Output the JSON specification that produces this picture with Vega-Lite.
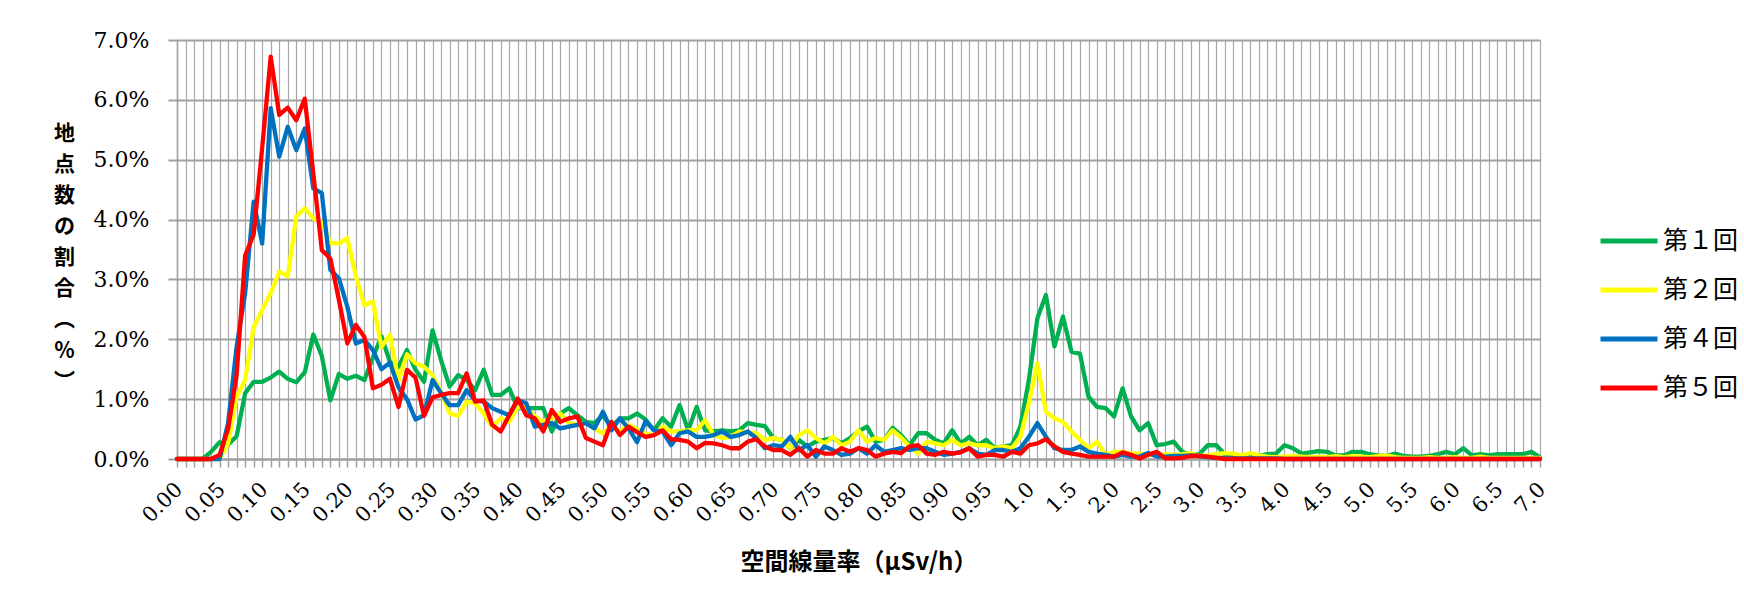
{
"$schema": "https://vega.github.io/schema/vega-lite/v6.json",
"width": 1363,
"height": 419,
"autosize": {"type": "none"},
"padding": {"left": 177, "top": 40, "right": 204, "bottom": 146},
"background": "white",
"data": {"values": [
{"x":"0.00","第１回":0,"第２回":0,"第４回":0,"第５回":0},
{"x":"0.01","第１回":0,"第２回":0,"第４回":0,"第５回":0},
{"x":"0.02","第１回":0,"第２回":0,"第４回":0,"第５回":0},
{"x":"0.03","第１回":0,"第２回":0,"第４回":0,"第５回":0},
{"x":"0.04","第１回":0.12,"第２回":0,"第４回":0,"第５回":0},
{"x":"0.05","第１回":0.28,"第２回":0,"第４回":0,"第５回":0.07},
{"x":"0.06","第１回":0.24,"第２回":0.26,"第４回":0.6,"第５回":0.5},
{"x":"0.07","第１回":0.38,"第２回":1.04,"第４回":1.88,"第５回":1.4},
{"x":"0.08","第１回":1.1,"第２回":1.32,"第４回":2.77,"第５回":3.4},
{"x":"0.09","第１回":1.29,"第２回":2.2,"第４回":4.3,"第５回":3.75},
{"x":"0.10","第１回":1.29,"第２回":2.49,"第４回":3.6,"第５回":5.2},
{"x":"0.11","第１回":1.36,"第２回":2.77,"第４回":5.86,"第５回":6.72},
{"x":"0.12","第１回":1.46,"第２回":3.13,"第４回":5.05,"第５回":5.75},
{"x":"0.13","第１回":1.34,"第２回":3.05,"第４回":5.55,"第５回":5.87},
{"x":"0.14","第１回":1.28,"第２回":4.05,"第４回":5.16,"第５回":5.66},
{"x":"0.15","第１回":1.45,"第２回":4.19,"第４回":5.52,"第５回":6.02},
{"x":"0.16","第１回":2.08,"第２回":4.02,"第４回":4.52,"第５回":4.77},
{"x":"0.17","第１回":1.72,"第２回":3.96,"第４回":4.44,"第５回":3.49},
{"x":"0.18","第１回":0.98,"第２回":3.61,"第４回":3.16,"第５回":3.35},
{"x":"0.19","第１回":1.42,"第２回":3.6,"第４回":3.02,"第５回":2.66},
{"x":"0.20","第１回":1.34,"第２回":3.69,"第４回":2.54,"第５回":1.93},
{"x":"0.21","第１回":1.39,"第２回":3.05,"第４回":1.93,"第５回":2.24},
{"x":"0.22","第１回":1.32,"第２回":2.57,"第４回":1.99,"第５回":2.04},
{"x":"0.23","第１回":1.7,"第２回":2.63,"第４回":1.82,"第５回":1.18},
{"x":"0.24","第１回":2.05,"第２回":1.87,"第４回":1.5,"第５回":1.24},
{"x":"0.25","第１回":1.62,"第２回":2.08,"第４回":1.61,"第５回":1.34},
{"x":"0.26","第１回":1.54,"第２回":1.3,"第４回":1.2,"第５回":0.87},
{"x":"0.27","第１回":1.82,"第２回":1.75,"第４回":1.0,"第５回":1.49},
{"x":"0.28","第１回":1.49,"第２回":1.6,"第４回":0.66,"第５回":1.36},
{"x":"0.29","第１回":1.29,"第２回":1.54,"第４回":0.73,"第５回":0.72},
{"x":"0.30","第１回":2.15,"第２回":1.4,"第４回":1.32,"第５回":1.03},
{"x":"0.31","第１回":1.65,"第２回":1.12,"第４回":1.1,"第５回":1.07},
{"x":"0.32","第１回":1.21,"第２回":0.76,"第４回":0.9,"第５回":1.1},
{"x":"0.33","第１回":1.4,"第２回":0.72,"第４回":0.9,"第５回":1.1},
{"x":"0.34","第１回":1.32,"第２回":0.96,"第４回":1.15,"第５回":1.43},
{"x":"0.35","第１回":1.15,"第２回":0.93,"第４回":0.98,"第５回":0.96},
{"x":"0.36","第１回":1.49,"第２回":0.76,"第４回":0.96,"第５回":0.98},
{"x":"0.37","第１回":1.07,"第２回":0.54,"第４回":0.85,"第５回":0.57},
{"x":"0.38","第１回":1.07,"第２回":0.68,"第４回":0.79,"第５回":0.46},
{"x":"0.39","第１回":1.18,"第２回":0.62,"第４回":0.73,"第５回":0.73},
{"x":"0.40","第１回":0.85,"第２回":0.87,"第４回":0.98,"第５回":1.01},
{"x":"0.41","第１回":0.85,"第２回":0.85,"第４回":0.93,"第５回":0.73},
{"x":"0.42","第１回":0.85,"第２回":0.71,"第４回":0.54,"第５回":0.68},
{"x":"0.43","第１回":0.85,"第２回":0.62,"第４回":0.57,"第５回":0.46},
{"x":"0.44","第１回":0.46,"第２回":0.68,"第４回":0.6,"第５回":0.82},
{"x":"0.45","第１回":0.76,"第２回":0.76,"第４回":0.51,"第５回":0.62},
{"x":"0.46","第１回":0.85,"第２回":0.6,"第４回":0.54,"第５回":0.68},
{"x":"0.47","第１回":0.73,"第２回":0.57,"第４回":0.57,"第５回":0.71},
{"x":"0.48","第１回":0.62,"第２回":0.6,"第４回":0.6,"第５回":0.35},
{"x":"0.49","第１回":0.6,"第２回":0.51,"第４回":0.51,"第５回":0.29},
{"x":"0.50","第１回":0.73,"第２回":0.43,"第４回":0.79,"第５回":0.23},
{"x":"0.51","第１回":0.54,"第２回":0.54,"第４回":0.48,"第５回":0.62},
{"x":"0.52","第１回":0.68,"第２回":0.46,"第４回":0.68,"第５回":0.4},
{"x":"0.53","第１回":0.68,"第２回":0.57,"第４回":0.51,"第５回":0.54},
{"x":"0.54","第１回":0.76,"第２回":0.5,"第４回":0.28,"第５回":0.45},
{"x":"0.55","第１回":0.66,"第２回":0.42,"第４回":0.63,"第５回":0.37},
{"x":"0.56","第１回":0.48,"第２回":0.4,"第４回":0.48,"第５回":0.4},
{"x":"0.57","第１回":0.68,"第２回":0.54,"第４回":0.46,"第５回":0.48},
{"x":"0.58","第１回":0.54,"第２回":0.46,"第４回":0.23,"第５回":0.33},
{"x":"0.59","第１回":0.9,"第２回":0.46,"第４回":0.43,"第５回":0.32},
{"x":"0.60","第１回":0.48,"第２回":0.48,"第４回":0.46,"第５回":0.29},
{"x":"0.61","第１回":0.87,"第２回":0.48,"第４回":0.37,"第５回":0.18},
{"x":"0.62","第１回":0.48,"第２回":0.65,"第４回":0.37,"第５回":0.27},
{"x":"0.63","第１回":0.46,"第２回":0.4,"第４回":0.4,"第５回":0.26},
{"x":"0.64","第１回":0.48,"第２回":0.35,"第４回":0.46,"第５回":0.23},
{"x":"0.65","第１回":0.46,"第２回":0.37,"第４回":0.37,"第５回":0.18},
{"x":"0.66","第１回":0.48,"第２回":0.46,"第４回":0.4,"第５回":0.18},
{"x":"0.67","第１回":0.6,"第２回":0.44,"第４回":0.46,"第５回":0.29},
{"x":"0.68","第１回":0.57,"第２回":0.43,"第４回":0.35,"第５回":0.33},
{"x":"0.69","第１回":0.55,"第２回":0.32,"第４回":0.18,"第５回":0.21},
{"x":"0.70","第１回":0.35,"第２回":0.35,"第４回":0.23,"第５回":0.15},
{"x":"0.71","第１回":0.32,"第２回":0.32,"第４回":0.21,"第５回":0.15},
{"x":"0.72","第１回":0.18,"第２回":0.18,"第４回":0.37,"第５回":0.07},
{"x":"0.73","第１回":0.32,"第２回":0.4,"第４回":0.15,"第５回":0.18},
{"x":"0.74","第１回":0.21,"第２回":0.48,"第４回":0.23,"第５回":0.04},
{"x":"0.75","第１回":0.29,"第２回":0.35,"第４回":0.04,"第５回":0.15},
{"x":"0.76","第１回":0.32,"第２回":0.26,"第４回":0.21,"第５回":0.09},
{"x":"0.77","第１回":0.35,"第２回":0.37,"第４回":0.15,"第５回":0.09},
{"x":"0.78","第１回":0.26,"第２回":0.23,"第４回":0.07,"第５回":0.18},
{"x":"0.79","第１回":0.35,"第２回":0.29,"第４回":0.09,"第５回":0.12},
{"x":"0.80","第１回":0.46,"第２回":0.48,"第４回":0.18,"第５回":0.18},
{"x":"0.81","第１回":0.54,"第２回":0.29,"第４回":0.09,"第５回":0.15},
{"x":"0.82","第１回":0.29,"第２回":0.35,"第４回":0.23,"第５回":0.04},
{"x":"0.83","第１回":0.32,"第２回":0.32,"第４回":0.12,"第５回":0.09},
{"x":"0.84","第１回":0.52,"第２回":0.48,"第４回":0.15,"第５回":0.12},
{"x":"0.85","第１回":0.4,"第２回":0.36,"第４回":0.18,"第５回":0.1},
{"x":"0.86","第１回":0.23,"第２回":0.21,"第４回":0.15,"第５回":0.21},
{"x":"0.87","第１回":0.43,"第２回":0.09,"第４回":0.18,"第５回":0.23},
{"x":"0.88","第１回":0.43,"第２回":0.29,"第４回":0.18,"第５回":0.09},
{"x":"0.89","第１回":0.32,"第２回":0.26,"第４回":0.12,"第５回":0.07},
{"x":"0.90","第１回":0.26,"第２回":0.23,"第４回":0.07,"第５回":0.12},
{"x":"0.91","第１回":0.48,"第２回":0.32,"第４回":0.09,"第５回":0.09},
{"x":"0.92","第１回":0.26,"第２回":0.23,"第４回":0.12,"第５回":0.11},
{"x":"0.93","第１回":0.37,"第２回":0.26,"第４回":0.18,"第５回":0.18},
{"x":"0.94","第１回":0.23,"第２回":0.23,"第４回":0.09,"第５回":0.04},
{"x":"0.95","第１回":0.32,"第２回":0.23,"第４回":0.07,"第５回":0.07},
{"x":"0.96","第１回":0.18,"第２回":0.18,"第４回":0.15,"第５回":0.07},
{"x":"0.97","第１回":0.21,"第２回":0.21,"第４回":0.15,"第５回":0.04},
{"x":"0.98","第１回":0.23,"第２回":0.18,"第４回":0.12,"第５回":0.12},
{"x":"0.99","第１回":0.54,"第２回":0.37,"第４回":0.18,"第５回":0.09},
{"x":"1.0","第１回":1.32,"第２回":0.93,"第４回":0.37,"第５回":0.23},
{"x":"1.1","第１回":2.35,"第２回":1.6,"第４回":0.6,"第５回":0.26},
{"x":"1.2","第１回":2.74,"第２回":0.79,"第４回":0.37,"第５回":0.33},
{"x":"1.3","第１回":1.88,"第２回":0.68,"第４回":0.18,"第５回":0.21},
{"x":"1.4","第１回":2.38,"第２回":0.62,"第４回":0.15,"第５回":0.12},
{"x":"1.5","第１回":1.79,"第２回":0.46,"第４回":0.15,"第５回":0.09},
{"x":"1.6","第１回":1.76,"第２回":0.32,"第４回":0.21,"第５回":0.07},
{"x":"1.7","第１回":1.04,"第２回":0.18,"第４回":0.12,"第５回":0.04},
{"x":"1.8","第１回":0.87,"第２回":0.29,"第４回":0.09,"第５回":0.04},
{"x":"1.9","第１回":0.85,"第２回":0.07,"第４回":0.07,"第５回":0.04},
{"x":"2.0","第１回":0.71,"第２回":0.12,"第４回":0.04,"第５回":0.04},
{"x":"2.1","第１回":1.18,"第２回":0.12,"第４回":0.07,"第５回":0.11},
{"x":"2.2","第１回":0.71,"第２回":0.09,"第４回":0.04,"第５回":0.07},
{"x":"2.3","第１回":0.48,"第２回":0.09,"第４回":0.04,"第５回":0.01},
{"x":"2.4","第１回":0.6,"第２回":0.07,"第４回":0.1,"第５回":0.07},
{"x":"2.5","第１回":0.23,"第２回":0.07,"第４回":0.04,"第５回":0.12},
{"x":"2.6","第１回":0.25,"第２回":0.08,"第４回":0.04,"第５回":0.01},
{"x":"2.7","第１回":0.29,"第２回":0.07,"第４回":0.05,"第５回":0.01},
{"x":"2.8","第１回":0.12,"第２回":0.08,"第４回":0.05,"第５回":0.02},
{"x":"2.9","第１回":0.07,"第２回":0.1,"第４回":0.06,"第５回":0.05},
{"x":"3.0","第１回":0.08,"第２回":0.05,"第４回":0.05,"第５回":0.05},
{"x":"3.1","第１回":0.23,"第２回":0.06,"第４回":0.03,"第５回":0.04},
{"x":"3.2","第１回":0.23,"第２回":0.08,"第４回":0.02,"第５回":0.02},
{"x":"3.3","第１回":0.08,"第２回":0.1,"第４回":0.02,"第５回":0},
{"x":"3.4","第１回":0.07,"第２回":0.09,"第４回":0.01,"第５回":0},
{"x":"3.5","第１回":0.06,"第２回":0.06,"第４回":0.01,"第５回":0},
{"x":"3.6","第１回":0.05,"第２回":0.1,"第４回":0.01,"第５回":0},
{"x":"3.7","第１回":0.05,"第２回":0.06,"第４回":0.01,"第５回":0},
{"x":"3.8","第１回":0.08,"第２回":0.04,"第４回":0.01,"第５回":0},
{"x":"3.9","第１回":0.09,"第２回":0.03,"第４回":0.01,"第５回":0},
{"x":"4.0","第１回":0.23,"第２回":0.04,"第４回":0,"第５回":0},
{"x":"4.1","第１回":0.18,"第２回":0.05,"第４回":0,"第５回":0},
{"x":"4.2","第１回":0.09,"第２回":0.04,"第４回":0,"第５回":0},
{"x":"4.3","第１回":0.11,"第２回":0.03,"第４回":0,"第５回":0},
{"x":"4.4","第１回":0.13,"第２回":0.04,"第４回":0,"第５回":0},
{"x":"4.5","第１回":0.12,"第２回":0.03,"第４回":0,"第５回":0},
{"x":"4.6","第１回":0.06,"第２回":0.05,"第４回":0,"第５回":0},
{"x":"4.7","第１回":0.06,"第２回":0.03,"第４回":0,"第５回":0},
{"x":"4.8","第１回":0.12,"第２回":0.05,"第４回":0,"第５回":0},
{"x":"4.9","第１回":0.12,"第２回":0.04,"第４回":0,"第５回":0},
{"x":"5.0","第１回":0.08,"第２回":0.03,"第４回":0,"第５回":0},
{"x":"5.1","第１回":0.06,"第２回":0.05,"第４回":0,"第５回":0},
{"x":"5.2","第１回":0.05,"第２回":0.06,"第４回":0,"第５回":0},
{"x":"5.3","第１回":0.09,"第２回":0.03,"第４回":0,"第５回":0},
{"x":"5.4","第１回":0.05,"第２回":0.02,"第４回":0,"第５回":0},
{"x":"5.5","第１回":0.04,"第２回":0.02,"第４回":0,"第５回":0},
{"x":"5.6","第１回":0.04,"第２回":0.02,"第４回":0,"第５回":0},
{"x":"5.7","第１回":0.05,"第２回":0.03,"第４回":0,"第５回":0},
{"x":"5.8","第１回":0.08,"第２回":0.02,"第４回":0,"第５回":0},
{"x":"5.9","第１回":0.12,"第２回":0.02,"第４回":0,"第５回":0},
{"x":"6.0","第１回":0.08,"第２回":0.03,"第４回":0,"第５回":0},
{"x":"6.1","第１回":0.18,"第２回":0.02,"第４回":0,"第５回":0},
{"x":"6.2","第１回":0.06,"第２回":0.02,"第４回":0,"第５回":0},
{"x":"6.3","第１回":0.08,"第２回":0.04,"第４回":0,"第５回":0},
{"x":"6.4","第１回":0.06,"第２回":0.02,"第４回":0,"第５回":0},
{"x":"6.5","第１回":0.08,"第２回":0.02,"第４回":0,"第５回":0},
{"x":"6.6","第１回":0.08,"第２回":0.02,"第４回":0,"第５回":0},
{"x":"6.7","第１回":0.08,"第２回":0.02,"第４回":0,"第５回":0},
{"x":"6.8","第１回":0.08,"第２回":0.02,"第４回":0,"第５回":0},
{"x":"6.9","第１回":0.12,"第２回":0.02,"第４回":0,"第５回":0},
{"x":"7.0","第１回":0.03,"第２回":0.02,"第４回":0,"第５回":0}
]},
"transform": [{"fold": ["第１回","第２回","第４回","第５回"], "as": ["series","value"]}],
"mark": {"type": "line", "strokeWidth": 4.3, "strokeJoin": "round", "strokeCap": "round"},
"encoding": {
  "x": {"field": "x", "type": "ordinal", "sort": null,
    "scale": {"type": "point", "padding": 0},
    "axis": {
      "title": "空間線量率（µSv/h）",
      "titleFont": "Noto Sans CJK JP", "titleFontSize": 24, "titleFontWeight": "bold", "titleColor": "#000000",
      "titleY": 103, "titleBaseline": "middle",
      "labelExpr": "(slice(datum.label,-1)=='0'||slice(datum.label,-1)=='5') ? datum.label : ''",
      "labelAngle": -45, "labelAlign": "right", "labelBaseline": "middle",
      "labelFont": "DejaVu Serif", "labelFontSize": 21, "labelColor": "#000000",
      "labelPadding": 19, "labelOffset": 2, "labelOverlap": false, "labelBound": false, "labelFlush": false,
      "grid": true, "gridColor": "#A8A8A8", "gridWidth": 1.2,
      "ticks": true, "tickSize": 8, "tickColor": "#A0A0A0", "tickWidth": 1.5,
      "domain": true, "domainColor": "#A0A0A0", "domainWidth": 2
    }
  },
  "y": {"field": "value", "type": "quantitative",
    "scale": {"domain": [0, 7], "nice": false},
    "axis": {
      "values": [0,1,2,3,4,5,6,7],
      "labelExpr": "format(datum.value, '.1f') + '%'",
      "labelFont": "DejaVu Serif", "labelFontSize": 22, "labelColor": "#000000", "labelPadding": 19,
      "grid": true, "gridColor": "#A0A0A0", "gridWidth": 2,
      "ticks": true, "tickSize": 9, "tickColor": "#A0A0A0", "tickWidth": 2,
      "domain": true, "domainColor": "#A0A0A0", "domainWidth": 1.5,
      "title": ["地","点","数","の","割","合","︵","％","︶"],
      "titleFont": "Noto Sans CJK JP", "titleFontSize": 21, "titleFontWeight": "bold", "titleColor": "#000000",
      "titleAngle": 0, "titleLineHeight": 31, "titleX": -113, "titleY": 82,
      "titleAlign": "center", "titleBaseline": "top"
    }
  },
  "color": {"field": "series", "type": "nominal",
    "scale": {"domain": ["第１回","第２回","第４回","第５回"], "range": ["#00B050","#FFFF00","#0070C0","#FF0000"]},
    "legend": {
      "orient": "none", "legendX": 1421, "legendY": 189, "title": null, "padding": 0,
      "symbolType": "stroke", "symbolSize": 3249, "symbolStrokeWidth": 5,
      "labelFont": "Noto Sans CJK JP", "labelFontSize": 25, "labelColor": "#000000", "labelOffset": 3,
      "rowPadding": 24, "clipHeight": 24, "labelLimit": 200
    }
  }
},
"config": {"view": {"stroke": null}}
}
